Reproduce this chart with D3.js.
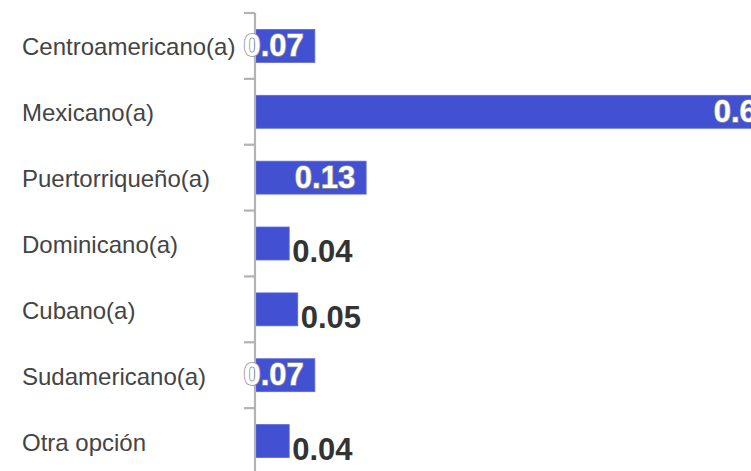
<!DOCTYPE html>
<html>
<head>
<meta charset="utf-8">
<script src="https://cdn.jsdelivr.net/npm/d3@7"></script>
<style>
  body { margin: 0; background: #fff; }
  svg { display: block; }
</style>
</head>
<body>
<div id="chart"></div>
<script>
let categories = ['Centroamericano(a)', 'Mexicano(a)', 'Puertorriqueño(a)', 'Dominicano(a)', 'Cubano(a)', 'Sudamericano(a)', 'Otra opción'];
let values = [0.07, 0.62, 0.13, 0.04, 0.05, 0.07, 0.04];
let valueLabels = ['0.07', '0.62', '0.13', '0.04', '0.05', '0.07', '0.04'];

let width = 751,
	height = 471,
	axisX = 255;

let yScale = d3.scaleBand()
	.domain(categories)
	.range([13, 474])
	.paddingInner(0.5)
	.paddingOuter(0.25);

let xScale = d3.scaleLinear()
	.domain([0, 0.62])
	.range([0, 530]);

let svg = d3.select('#chart').append('svg')
	.attr('width', width)
	.attr('height', height)
	.style('font-family', '"Liberation Sans", Arial, sans-serif');

// category names
svg.selectAll('text.cat')
	.data(categories)
	.enter().append('text')
		.attr('class', 'cat')
		.attr('x', 22)
		.attr('y', d => yScale(d) + yScale.bandwidth() / 2 + 1)
		.attr('dominant-baseline', 'central')
		.style('font-size', '24px')
		.style('fill', '#444')
		.text(d => d);

// bars
svg.selectAll('rect')
	.data(values)
	.enter().append('rect')
		.attr('x', axisX)
		.attr('y', (d, i) => yScale(categories[i]))
		.attr('width', d => xScale(d))
		.attr('height', yScale.bandwidth())
		.style('fill', '#4151d2')
		.style('stroke', '#5b68d8')
		.style('stroke-width', 0.8);

// axis line + ticks at band boundaries
let step = yScale.step();
let bounds = categories.map(c => yScale(c) - step * 0.25);
svg.append('line')
	.attr('x1', axisX).attr('x2', axisX)
	.attr('y1', bounds[0]).attr('y2', height)
	.style('stroke', '#b3b3b3')
	.style('stroke-width', 2.2);
svg.selectAll('line.tick')
	.data(bounds)
	.enter().append('line')
		.attr('class', 'tick')
		.attr('x1', axisX - 11).attr('x2', axisX)
		.attr('y1', d => d).attr('y2', d => d)
		.style('stroke', '#b3b3b3')
		.style('stroke-width', 2.2);

// value labels: inside (white) if bar is wide enough, otherwise after the bar
svg.selectAll('text.val')
	.data(values)
	.enter().append('text')
		.attr('class', 'val')
		.attr('x', d => d >= 0.06 ? axisX + xScale(d) - 11 : axisX + xScale(d) + 3)
		.attr('y', (d, i) => d >= 0.06
			? yScale(categories[i]) + yScale.bandwidth() / 2 + 10
			: yScale(categories[i]) + yScale.bandwidth() + 2)
		.attr('text-anchor', d => d >= 0.06 ? 'end' : 'start')
		.style('font-size', '31px')
		.style('font-weight', 'bold')
		.style('fill', d => d >= 0.06 ? '#fff' : '#333')
		.style('stroke', d => d >= 0.06 ? '#8f8f8f' : 'none')
		.style('stroke-width', 1.6)
		.style('paint-order', 'stroke')
		.text((d, i) => valueLabels[i]);
</script>
</body>
</html>
